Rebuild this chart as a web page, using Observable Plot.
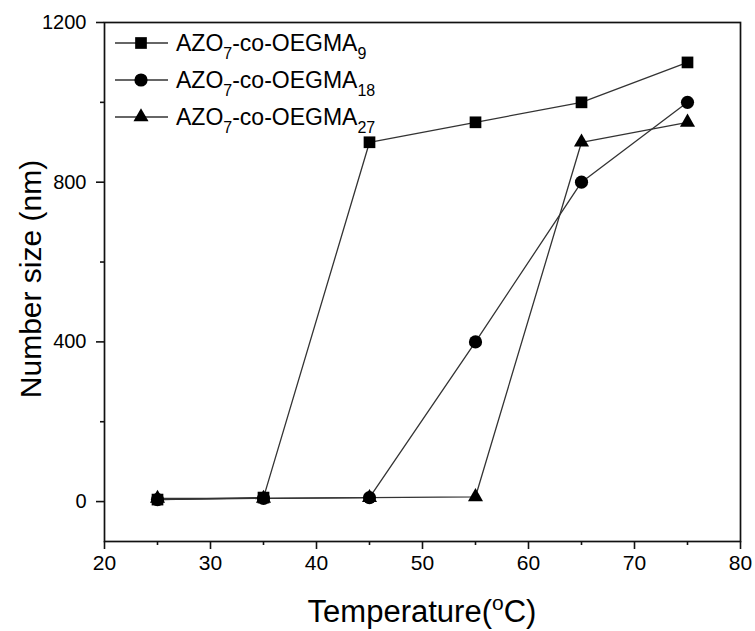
<!DOCTYPE html>
<html>
<head>
<meta charset="utf-8">
<script src="https://cdn.jsdelivr.net/npm/d3@7"></script>
<script src="https://cdn.jsdelivr.net/npm/@observablehq/plot@0.6"></script>
<style>
  html, body { margin: 0; padding: 0; background: #fff; }
  #chart { width: 755px; height: 631px; }
</style>
</head>
<body>
<div id="chart"></div>
<script>
// ---- data ----
const temperatures = [25, 35, 45, 55, 65, 75];
const sizeOEGMA9  = [5, 10, 900, 950, 1000, 1100];
const sizeOEGMA18 = [5, 8, 10, 400, 800, 1000];
const sizeOEGMA27 = [8, 8, 10, 12, 900, 950];
const seriesKeys = ["OEGMA9", "OEGMA18", "OEGMA27"];
const seriesSubs = ["9", "18", "27"];
const seriesSymbols = ["square", "circle", "triangle"];
const xTicks = [20, 30, 40, 50, 60, 70, 80];
const xMinorTicks = [25, 35, 45, 55, 65, 75];
const yTicks = [0, 400, 800, 1200];
const yMinorTicks = [200, 600, 1000];

const seriesValues = [sizeOEGMA9, sizeOEGMA18, sizeOEGMA27];
const rows = seriesKeys.map((k, i) => temperatures.map((t, j) => ({series: k, T: t, size: seriesValues[i][j]})));
const radii = [6.6, 6.6, 5.6];
const lineColor = "#333";

const font = "'Liberation Sans', Arial, sans-serif";

const marks = [
  Plot.frame({stroke: "#111", strokeWidth: 1.7}),
  Plot.axisX({ticks: xTicks, tickSize: 8, tickPadding: 6, label: null, fontSize: 21, strokeWidth: 1.6, stroke: "#111", tickFormat: d3.format("d")}),
  Plot.axisX({ticks: xMinorTicks, tickSize: 4, text: null, label: null, strokeWidth: 1.6, stroke: "#111"}),
  Plot.axisY({ticks: yTicks, tickSize: 8, tickPadding: 10, label: null, fontSize: 20, strokeWidth: 1.6, stroke: "#111", tickFormat: d3.format("d")}),
  Plot.axisY({ticks: yMinorTicks, tickSize: 4, text: null, label: null, strokeWidth: 1.6, stroke: "#111"})
];
rows.forEach((data, i) => {
  marks.push(Plot.line(data, {x: "T", y: "size", stroke: lineColor, strokeWidth: 1.3}));
});
rows.forEach((data, i) => {
  marks.push(Plot.dot(data, {x: "T", y: "size", symbol: () => seriesSymbols[i], r: radii[i], fill: "#000", stroke: "none"}));
});

const mLeft = 104, mRight = 15, mTop = 22, mBottom = 90;
const chart = Plot.plot({
  width: 755,
  height: 631,
  marginLeft: mLeft,
  marginRight: mRight,
  marginTop: mTop,
  marginBottom: mBottom,
  x: {domain: [20, 80]},
  y: {domain: [-100, 1200]},
  style: {fontFamily: font, color: "#000", background: "#fff", overflow: "visible"},
  marks
});

const svg = d3.select(chart);
const frameL = mLeft, frameR = 755 - mRight, frameT = mTop, frameB = 631 - mBottom;

// axis titles
const xl = svg.append("text")
  .attr("x", (frameL + frameR) / 2).attr("y", 622)
  .attr("text-anchor", "middle")
  .attr("font-family", font).attr("font-size", 31).attr("fill", "#000");
xl.append("tspan").text("Temperature(");
xl.append("tspan").attr("font-size", 21).attr("dy", -12).text("o");
xl.append("tspan").attr("dy", 12).text("C)");

svg.append("text")
  .attr("transform", `translate(41,279) rotate(-90)`)
  .attr("text-anchor", "middle")
  .attr("font-family", font).attr("font-size", 30).attr("fill", "#000")
  .text("Number size (nm)");

// legend
const legendSymbols = {square: d3.symbolSquare, circle: d3.symbolCircle, triangle: d3.symbolTriangle};
const lg = svg.append("g").attr("text-anchor", "start");
seriesKeys.forEach((k, i) => {
  const yRow = 43 + i * 37;
  lg.append("line").attr("x1", 115).attr("x2", 168).attr("y1", yRow).attr("y2", yRow)
    .attr("stroke", lineColor).attr("stroke-width", 1.3);
  lg.append("path")
    .attr("d", d3.symbol(legendSymbols[seriesSymbols[i]], Math.PI * radii[i] * radii[i])())
    .attr("transform", `translate(141,${yRow})`).attr("fill", "#000");
  const t = lg.append("text").attr("x", 176).attr("y", yRow + 8)
    .attr("text-anchor", "start")
    .attr("font-family", font).attr("font-size", 23).attr("fill", "#000");
  t.append("tspan").text("AZO");
  t.append("tspan").attr("font-size", 16).attr("dy", 8).text("7");
  t.append("tspan").attr("dy", -8).text("-co-OEGMA");
  t.append("tspan").attr("font-size", 16).attr("dy", 8).text(seriesSubs[i]);
});

document.getElementById("chart").appendChild(chart);
</script>
</body>
</html>
